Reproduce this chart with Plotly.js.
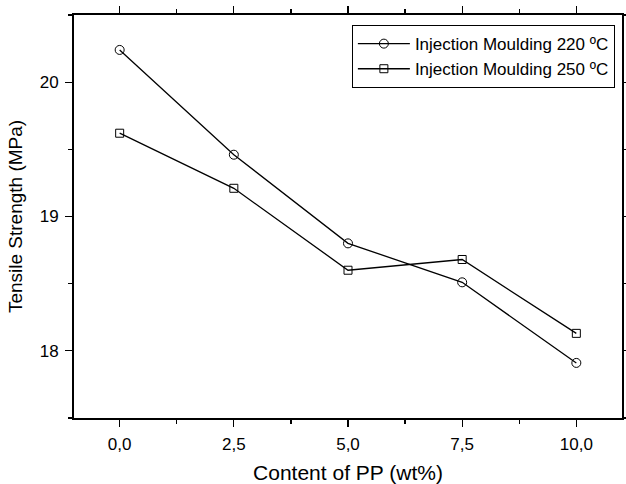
<!DOCTYPE html>
<html>
<head>
<meta charset="utf-8">
<script src="https://cdn.plot.ly/plotly-3.0.1.min.js"></script>
<style>html,body{margin:0;padding:0;background:#fff;}#chart{width:626px;height:484px;}</style>
</head>
<body>
<div id="chart"></div>
<script>
const ppContent = [0, 2.5, 5, 7.5, 10];
const strength220 = [20.24, 19.46, 18.80, 18.51, 17.91];
const strength250 = [19.62, 19.21, 18.60, 18.68, 18.13];
const seriesNames = ['Injection Moulding 220 ºC', 'Injection Moulding 250 ºC'];

const FONT = 'Liberation Sans, Arial, sans-serif';

const traces = [
  {x: ppContent, y: strength220, name: seriesNames[0], mode: 'lines+markers', type: 'scatter',
   line: {color: '#000', width: 1.3},
   marker: {symbol: 'circle-open', size: 9, color: '#000', line: {width: 1}}},
  {x: ppContent, y: strength250, name: seriesNames[1], mode: 'lines+markers', type: 'scatter',
   line: {color: '#000', width: 1.3},
   marker: {symbol: 'square-open', size: 8, color: '#000', line: {width: 1}}}
];

const axisCommon = {
  showline: true, linecolor: '#000', linewidth: 2, mirror: 'allticks',
  ticks: 'outside', ticklen: 7, tickwidth: 1.3, tickcolor: '#000',
  showgrid: false, zeroline: false, ticklabelstandoff: 3,
  tickfont: {family: FONT, size: 17, color: '#000'}
};

const layout = {
  width: 626, height: 484,
  margin: {l: 74, r: 4, t: 15, b: 66},
  paper_bgcolor: '#fff', plot_bgcolor: '#fff',
  separators: ',.',
  font: {family: FONT, color: '#000'},
  showlegend: true,
  legend: {x: 0.987, y: 0.975, xanchor: 'right', yanchor: 'top',
    bordercolor: '#000', borderwidth: 1, bgcolor: '#fff',
    font: {size: 17, family: FONT, color: '#000'},
    itemwidth: 52, tracegroupgap: 0},
  xaxis: Object.assign({}, axisCommon, {
    range: [-1, 11], tickmode: 'array', tickvals: ppContent, tickformat: '.1f',
    minor: {dtick: 1.25, tick0: 0, ticks: 'outside', ticklen: 4, tickcolor: '#000', tickwidth: 1.3, showgrid: false},
    title: {text: 'Content of PP (wt%)', font: {size: 21, color: '#000'}, standoff: 17}
  }),
  yaxis: Object.assign({}, axisCommon, {
    range: [17.5, 20.5], dtick: 1, tick0: 18,
    minor: {dtick: 0.5, tick0: 17.5, ticks: 'outside', ticklen: 4, tickcolor: '#000', tickwidth: 1.3, showgrid: false},
    title: {text: 'Tensile Strength (MPa)', font: {size: 19, color: '#000'}, standoff: 12}
  }),
  shapes: [
    {type: 'line', xref: 'paper', yref: 'paper', x0: -0.008, x1: 0, y0: 0, y1: 0, line: {color: '#000', width: 2}},
    {type: 'line', xref: 'paper', yref: 'paper', x0: -0.008, x1: 0, y0: 1, y1: 1, line: {color: '#000', width: 2}}
  ]
};

Plotly.newPlot('chart', traces, layout, {displayModeBar: false, staticPlot: true});
</script>
</body>
</html>
